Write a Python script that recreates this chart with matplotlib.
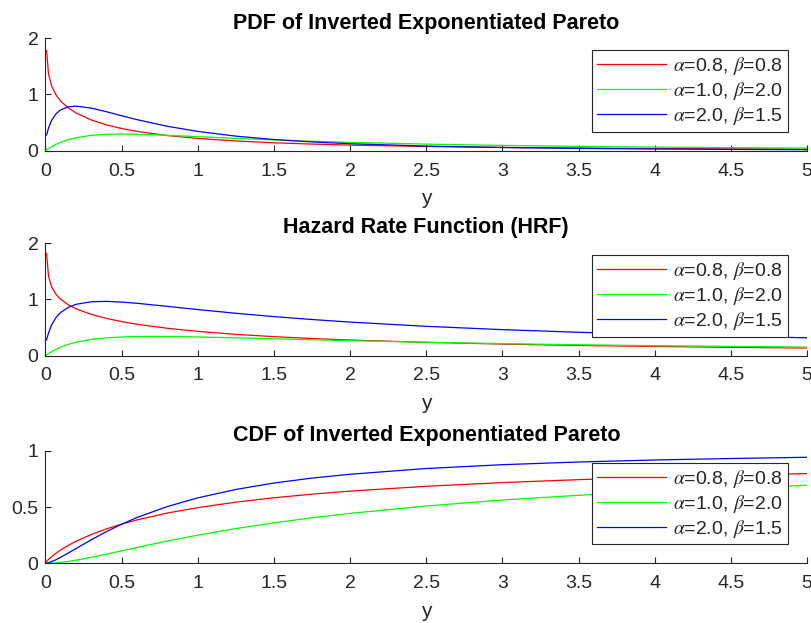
import numpy as np
import matplotlib
matplotlib.use("Agg")
import matplotlib.pyplot as plt

# sample points along y
y = [0.007, 0.02, 0.04, 0.07, 0.1, 0.15, 0.2, 0.3, 0.4, 0.5, 0.6, 0.8, 1.0,
     1.25, 1.5, 1.75, 2.0, 2.5, 3.0, 3.5, 4.0, 4.5, 5.0]

# PDF
pdf_red = [1.78, 1.362, 1.153, 0.988, 0.882, 0.760, 0.672, 0.547, 0.460, 0.394,
           0.344, 0.269, 0.218, 0.173, 0.141, 0.118, 0.100, 0.075, 0.058, 0.047,
           0.038, 0.032, 0.027]
pdf_green = [0.014, 0.038, 0.071, 0.114, 0.150, 0.197, 0.231, 0.273, 0.292, 0.296,
             0.293, 0.274, 0.250, 0.219, 0.192, 0.168, 0.148, 0.117, 0.094, 0.077,
             0.064, 0.054, 0.046]
pdf_blue = [0.28, 0.403, 0.540, 0.659, 0.727, 0.781, 0.793, 0.758, 0.693, 0.622,
            0.553, 0.434, 0.343, 0.259, 0.199, 0.156, 0.124, 0.082, 0.057, 0.041,
            0.031, 0.023, 0.018]

# HRF
hrf_red = [1.82, 1.411, 1.226, 1.087, 1.001, 0.905, 0.835, 0.735, 0.663, 0.606,
           0.559, 0.487, 0.432, 0.379, 0.338, 0.305, 0.278, 0.237, 0.206, 0.182,
           0.164, 0.148, 0.136]
hrf_green = [0.014, 0.038, 0.071, 0.115, 0.152, 0.201, 0.238, 0.288, 0.317, 0.333,
             0.341, 0.342, 0.333, 0.317, 0.300, 0.283, 0.267, 0.238, 0.214, 0.194,
             0.178, 0.164, 0.152]
hrf_blue = [0.28, 0.405, 0.548, 0.682, 0.769, 0.860, 0.913, 0.959, 0.966, 0.953,
            0.932, 0.877, 0.820, 0.754, 0.695, 0.643, 0.597, 0.522, 0.463, 0.416,
            0.377, 0.345, 0.318]

# CDF
cdf_red = [0.015, 0.035, 0.059, 0.091, 0.119, 0.160, 0.196, 0.256, 0.306, 0.349,
           0.386, 0.447, 0.495, 0.544, 0.583, 0.615, 0.642, 0.685, 0.718, 0.744,
           0.765, 0.783, 0.798]
cdf_green = [0.0, 0.0004, 0.0015, 0.004, 0.008, 0.017, 0.028, 0.053, 0.082, 0.111,
             0.141, 0.198, 0.250, 0.309, 0.360, 0.405, 0.444, 0.510, 0.563, 0.605,
             0.640, 0.669, 0.694]
cdf_blue = [0.001, 0.005, 0.015, 0.033, 0.054, 0.092, 0.131, 0.209, 0.282, 0.348,
            0.407, 0.505, 0.582, 0.657, 0.714, 0.758, 0.792, 0.843, 0.877, 0.901,
            0.919, 0.932, 0.943]

labels = [r'$\alpha$=0.8, $\beta$=0.8', r'$\alpha$=1.0, $\beta$=2.0',
          r'$\alpha$=2.0, $\beta$=1.5']
colors = ['#ff0000', '#00ff00', '#0000ff']

titles = ['PDF of Inverted Exponentiated Pareto', 'Hazard Rate Function (HRF)',
          'CDF of Inverted Exponentiated Pareto']
panels = [(pdf_red, pdf_green, pdf_blue), (hrf_red, hrf_green, hrf_blue),
          (cdf_red, cdf_green, cdf_blue)]
ylims = [(0, 2), (0, 2), (0, 1)]
yticks = [[0, 1, 2], [0, 1, 2], [0, 0.5, 1]]
xticks = [0, 0.5, 1, 1.5, 2, 2.5, 3, 3.5, 4, 4.5, 5]

plt.rcParams['font.family'] = ['Liberation Sans', 'DejaVu Sans']
plt.rcParams['mathtext.fontset'] = 'stix'

fig = plt.figure(figsize=(8.11, 6.23), dpi=100)
ax_color = '#262626'
bottoms = [0.7581, 0.4291, 0.0958]

for i in range(3):
    ax = fig.add_axes([0.0561, bottoms[i], 0.939, 0.1805])
    for series, c, lab in zip(panels[i], colors, labels):
        ax.plot(y, series, color=c, lw=0.9, label=lab)
    ax.set_xlim(0, 5)
    ax.set_ylim(*ylims[i])
    ax.set_xticks(xticks)
    ax.set_xticklabels([('%g' % t) for t in xticks])
    ax.set_yticks(yticks[i])
    ax.set_yticklabels([('%g' % t) for t in yticks[i]])
    ax.spines['top'].set_visible(False)
    ax.spines['right'].set_visible(False)
    for s in ['left', 'bottom']:
        ax.spines[s].set_color(ax_color)
        ax.spines[s].set_linewidth(0.8)
    ax.tick_params(direction='in', length=4.5, width=0.8, colors=ax_color,
                   labelsize=14)
    ax.tick_params(axis='x', pad=8.5)
    ax.tick_params(axis='y', pad=5)
    ax.set_xlabel('y', fontsize=15, color=ax_color, labelpad=7)
    ax.set_title(titles[i], fontsize=15.5, fontweight='bold', pad=7)
    leg = ax.legend(loc='upper right', bbox_to_anchor=(0.9747, 0.893),
                    borderaxespad=0, fontsize=14, fancybox=False,
                    framealpha=1, handlelength=3.55, handletextpad=0.36,
                    labelspacing=0.15, borderpad=0.25)
    leg.get_frame().set_edgecolor(ax_color)
    leg.get_frame().set_linewidth(0.8)
    for t in leg.get_texts():
        t.set_color(ax_color)

fig.savefig('out.png', dpi=100)
